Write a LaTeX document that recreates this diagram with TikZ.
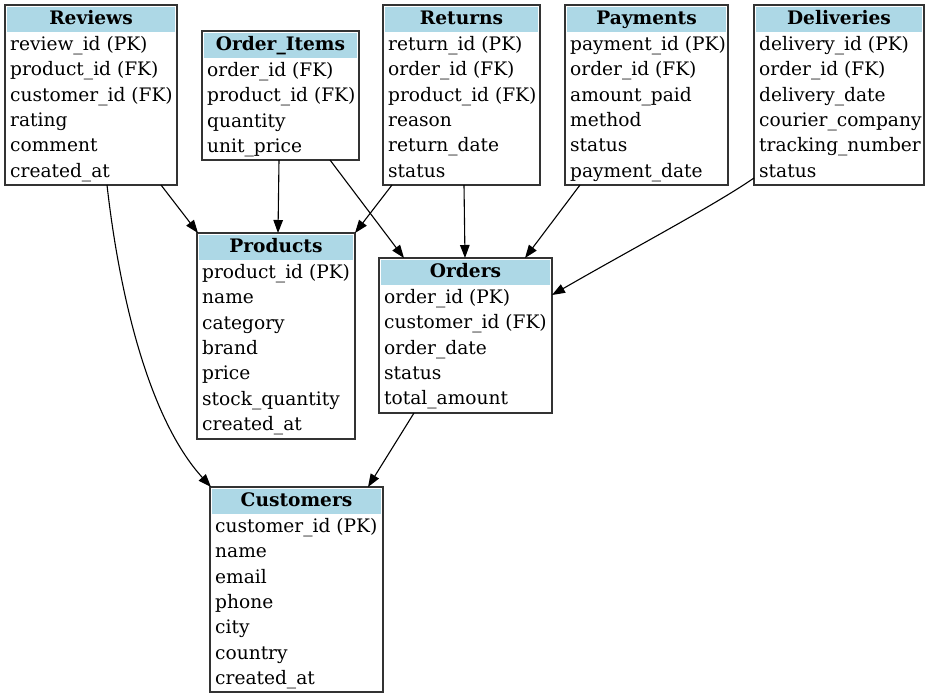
\documentclass[tikz,border=0pt]{standalone}
\usepackage{fontspec}
\setmainfont{DejaVu Serif}
\usetikzlibrary{arrows.meta,calc}
\definecolor{hdr}{HTML}{ADD8E6}
\definecolor{bord}{HTML}{333333}
\tikzset{
 tablebox/.style={draw=bord, line width=1.3pt, rectangle, inner sep=0pt, outer sep=0pt, fill=white},
 headfill/.style={fill=hdr},
 titletext/.style={font=\fontsize{18.6}{21}\selectfont\bfseries, anchor=base, inner sep=0pt},
 rowtext/.style={font=\fontsize{18.6}{21}\selectfont, anchor=base west, inner sep=0pt},
 fk/.style={draw=black, line width=1.1pt, -{Triangle[length=13pt,width=9.5pt]}},
}
\newcommand{\erdtab}[7]{%
 \node[tablebox, minimum width={(#4-#2)*1pt}, minimum height={(#5-#3)*1pt}] (#1) at ({(#2+#4)/2},{(#3+#5)/2}) {};
 \fill[headfill] (#2+2,#3+2) rectangle (#4-2,#3+27);
 \node[titletext] (#1-t) at ({(#2+#4)/2},#3+19.5) {#6};
 \foreach \r [count=\i] in {#7} {\node[rowtext] (#1-\i) at (#2+5,{#3+27+(\i-0.5)*25.3+6}) {\r};}
}
\begin{document}
\begin{tikzpicture}[x=1pt,y=-1pt]
\useasboundingbox (0,0) rectangle (930,697);
\erdtab{rev}{5}{5}{177}{185}{Reviews}{review\_id (PK),product\_id (FK),customer\_id (FK),rating,comment,created\_at}
\erdtab{oi}{202}{31}{359}{160}{Order\_Items}{order\_id (FK),product\_id (FK),quantity,unit\_price}
\erdtab{ret}{383}{5}{540}{185}{Returns}{return\_id (PK),order\_id (FK),product\_id (FK),reason,return\_date,status}
\erdtab{pay}{565}{5}{728}{185}{Payments}{payment\_id (PK),order\_id (FK),amount\_paid,method,status,payment\_date}
\erdtab{del}{754}{5}{924}{185}{Deliveries}{delivery\_id (PK),order\_id (FK),delivery\_date,courier\_company,tracking\_number,status}
\erdtab{prod}{197}{233}{355}{439}{Products}{product\_id (PK),name,category,brand,price,stock\_quantity,created\_at}
\erdtab{ord}{379}{258}{552}{413}{Orders}{order\_id (PK),customer\_id (FK),order\_date,status,total\_amount}
\erdtab{cust}{210}{487}{383}{692}{Customers}{customer\_id (PK),name,email,phone,city,country,created\_at}
\draw[fk] ([xshift=156pt]rev.south west) -- ([xshift=1pt]prod.north west);
\draw[fk] ([xshift=102pt]rev.south west) .. controls (120,300) and (150,420) .. ([xshift=1pt]cust.north west);
\draw[fk] ([xshift=77pt]oi.south west) -- ([xshift=81pt]prod.north west);
\draw[fk] ([xshift=128pt]oi.south west) -- ([xshift=25pt]ord.north west);
\draw[fk] ([xshift=9pt]ret.south west) -- (prod.north east);
\draw[fk] ([xshift=81pt]ret.south west) -- ([xshift=86pt]ord.north west);
\draw[fk] ([xshift=15pt]pay.south west) -- ([xshift=146pt]ord.north west);
\draw[fk] ([yshift=7pt]del.south west) .. controls (715,205) and (630,250) .. ([yshift=-37pt]ord.north east);
\draw[fk] ([xshift=35pt]ord.south west) -- ([xshift=158pt]cust.north west);
\end{tikzpicture}
\end{document}
